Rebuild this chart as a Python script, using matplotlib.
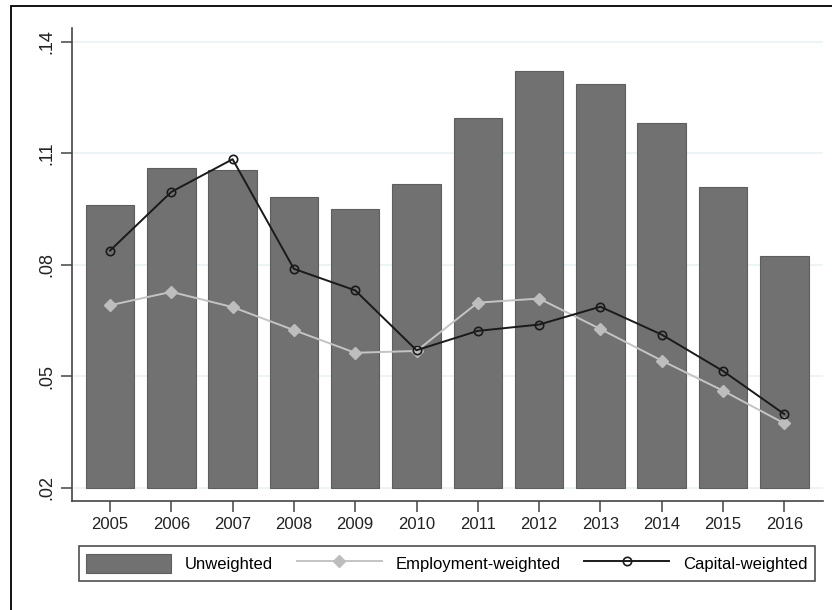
import matplotlib
matplotlib.use('Agg')
import matplotlib.pyplot as plt
from matplotlib.patches import Rectangle

plt.rcParams['font.family'] = ['Liberation Sans', 'DejaVu Sans']

years = [2005, 2006, 2007, 2008, 2009, 2010, 2011, 2012, 2013, 2014, 2015, 2016]
unweighted = [0.0961, 0.1061, 0.1056, 0.0982, 0.0950, 0.1018,
              0.1194, 0.1322, 0.1287, 0.1181, 0.1009, 0.0824]
employment = [0.0691, 0.0727, 0.0686, 0.0624, 0.0563, 0.0568,
              0.0698, 0.0709, 0.0627, 0.0542, 0.0461, 0.0373]
capital = [0.0838, 0.0996, 0.1084, 0.0789, 0.0731, 0.0570,
           0.0622, 0.0639, 0.0687, 0.0612, 0.0514, 0.0398]
yticks = [0.02, 0.05, 0.08, 0.11, 0.14]
ytick_labels = ['.02', '.05', '.08', '.11', '.14']
base = 0.02

fig = plt.figure(figsize=(8.32, 6.10), dpi=100)
ax = fig.add_axes([0.0869, 0.1792, 0.9019, 0.7748])

# outer border like the screenshot crop
fig.patches.append(Rectangle((11 / 832, -0.1), 1.2, 1 - 6 / 610 + 0.1,
                             transform=fig.transFigure, fill=False,
                             edgecolor='black', linewidth=1.3))

bars = ax.bar(years, [v - base for v in unweighted], bottom=base, width=0.79,
              color='#717171', edgecolor='#5e5e5e', linewidth=0.8,
              label='Unweighted', zorder=2)
emp_line, = ax.plot(years, employment, color='#c4c4c4', linewidth=1.4, marker='D',
                    markersize=6, markerfacecolor='#bdbdbd', markeredgecolor='#bdbdbd',
                    label='Employment-weighted', zorder=3)
cap_line, = ax.plot(years, capital, color='#1a1a1a', linewidth=1.4, marker='o',
                    markersize=6, markerfacecolor='none', markeredgecolor='#1a1a1a',
                    markeredgewidth=1.2, label='Capital-weighted', zorder=4)

ax.set_xlim(2004.385, 2016.626)
ax.set_ylim(0.0165, 0.1437)
ax.set_xticks(years)
ax.set_xticklabels([str(y) for y in years], fontsize=12)
ax.set_yticks(yticks)
ax.set_yticklabels(ytick_labels, fontsize=13, rotation=90, va='center')
ax.yaxis.grid(True, color='#eaf2f3', linewidth=1.2, zorder=0)
ax.set_axisbelow(True)

for s in ['top', 'right']:
    ax.spines[s].set_visible(False)
for s in ['left', 'bottom']:
    ax.spines[s].set_color('#444444')
    ax.spines[s].set_linewidth(1.2)
ax.tick_params(axis='both', direction='out', length=8, width=1.1,
               color='#444444', labelcolor='#222222')
ax.tick_params(axis='x', pad=4)
ax.tick_params(axis='y', pad=4)

leg = ax.legend([bars, emp_line, cap_line],
                ['Unweighted', 'Employment-weighted', 'Capital-weighted'],
                loc='center', bbox_to_anchor=(447 / 832, 1 - 563.5 / 610),
                bbox_transform=fig.transFigure, ncol=3, fontsize=12,
                frameon=True, fancybox=False, handlelength=5.1,
                handleheight=1.4, handletextpad=0.85, columnspacing=1.4,
                borderpad=0.45, borderaxespad=0)
leg.get_frame().set_edgecolor('#222222')
leg.get_frame().set_linewidth(1.2)

fig.savefig('out.png', dpi=100)
